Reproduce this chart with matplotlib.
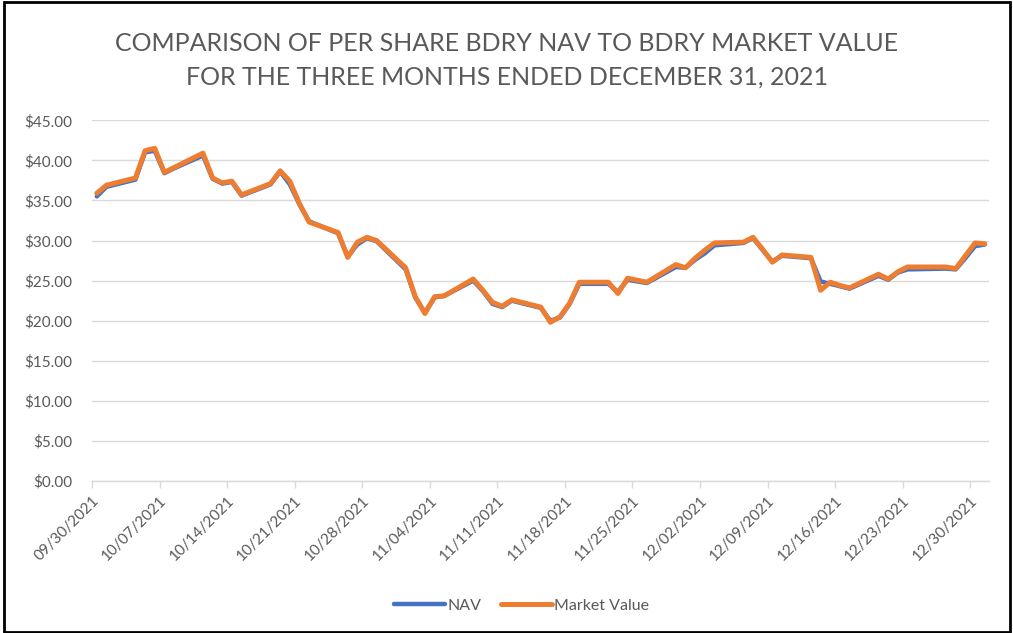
import matplotlib.pyplot as plt
import matplotlib.dates as mdates
from matplotlib.patches import Rectangle
import pandas as pd

plt.rcParams['font.family'] = ['Lato', 'DejaVu Sans']

# Trading days in Q4 2021
fechas = ['2021-09-30', '2021-10-01', '2021-10-04', '2021-10-05', '2021-10-06', '2021-10-07',
          '2021-10-08', '2021-10-11', '2021-10-12', '2021-10-13', '2021-10-14', '2021-10-15',
          '2021-10-18', '2021-10-19', '2021-10-20', '2021-10-21', '2021-10-22', '2021-10-25',
          '2021-10-26', '2021-10-27', '2021-10-28', '2021-10-29', '2021-11-01', '2021-11-02',
          '2021-11-03', '2021-11-04', '2021-11-05', '2021-11-08', '2021-11-09', '2021-11-10',
          '2021-11-11', '2021-11-12', '2021-11-15', '2021-11-16', '2021-11-17', '2021-11-18',
          '2021-11-19', '2021-11-22', '2021-11-23', '2021-11-24', '2021-11-26', '2021-11-29',
          '2021-11-30', '2021-12-01', '2021-12-02', '2021-12-03', '2021-12-06', '2021-12-07',
          '2021-12-08', '2021-12-09', '2021-12-10', '2021-12-13', '2021-12-14', '2021-12-15',
          '2021-12-16', '2021-12-17', '2021-12-20', '2021-12-21', '2021-12-22', '2021-12-23',
          '2021-12-27', '2021-12-28', '2021-12-29', '2021-12-30', '2021-12-31']

market = [35.9, 36.9, 37.8, 41.2, 41.5, 38.5,
          39.1, 40.9, 37.8, 37.2, 37.4, 35.7,
          37.1, 38.7, 37.4, 34.6, 32.3, 31.0,
          27.9, 29.8, 30.4, 30.0, 26.6, 23.0,
          20.9, 23.0, 23.1, 25.2, 23.8, 22.3,
          21.8, 22.6, 21.7, 19.8, 20.5, 22.2,
          24.8, 24.8, 23.4, 25.3, 24.8, 27.0,
          26.6, 27.8, 28.8, 29.7, 29.8, 30.4,
          28.9, 27.3, 28.2, 27.9, 23.8, 24.8,
          24.4, 24.1, 25.8, 25.2, 26.1, 26.7,
          26.7, 26.5, 28.1, 29.7, 29.6]

nav = [35.5, 36.7, 37.6, 41.0, 41.2, 38.4,
       39.0, 40.6, 37.7, 37.1, 37.3, 35.6,
       37.0, 38.6, 37.0, 34.5, 32.4, 30.9,
       28.0, 29.5, 30.3, 29.9, 26.4, 22.9,
       21.0, 22.9, 23.1, 25.0, 23.7, 22.1,
       21.7, 22.5, 21.6, 20.0, 20.4, 22.1,
       24.6, 24.6, 23.6, 25.1, 24.7, 26.7,
       26.6, 27.6, 28.4, 29.4, 29.7, 30.3,
       28.8, 27.4, 28.1, 27.8, 24.9, 24.6,
       24.3, 24.0, 25.6, 25.1, 26.0, 26.4,
       26.5, 26.4, 27.8, 29.3, 29.5]

x = pd.to_datetime(fechas) + pd.Timedelta(hours=12)
ticks = pd.date_range('2021-09-30', '2021-12-30', freq='7D')

fig = plt.figure(figsize=(10.13, 6.33), dpi=100)
ax = fig.add_axes([0.0908, 0.240, 0.886, 0.570])

ax.plot(x, nav, color='#4472C4', linewidth=3.2, label='NAV', solid_capstyle='round')
ax.plot(x, market, color='#ED7D31', linewidth=3.6, label='Market Value', solid_capstyle='round')

ax.set_xlim(pd.Timestamp('2021-09-30'), pd.Timestamp('2022-01-01'))
ax.set_ylim(0, 45)
ax.set_yticks(range(0, 50, 5))
ax.set_yticklabels([f'${v:.2f}' for v in range(0, 50, 5)])
ax.set_xticks(ticks)
ax.xaxis.set_major_formatter(mdates.DateFormatter('%m/%d/%Y'))

gris = '#595959'
for lbl in ax.get_xticklabels():
    lbl.set_rotation(45)
    lbl.set_ha('right')
    lbl.set_va('top')
    lbl.set_rotation_mode('anchor')
ax.tick_params(axis='x', colors='#D9D9D9', labelcolor=gris, labelsize=11, length=5, width=1, pad=4)
ax.tick_params(axis='y', length=0, labelcolor=gris, labelsize=11, pad=14)

ax.grid(axis='y', color='#D9D9D9', linewidth=1)
ax.set_axisbelow(True)
for s in ['top', 'right', 'left']:
    ax.spines[s].set_visible(False)
ax.spines['bottom'].set_color('#D9D9D9')
ax.spines['bottom'].set_linewidth(1)

fig.text(0.5, 0.905, 'COMPARISON OF PER SHARE BDRY NAV TO BDRY MARKET VALUE\nFOR THE THREE MONTHS ENDED DECEMBER 31, 2021',
         ha='center', va='center', fontsize=18, color=gris, linespacing=1.55)

fig.legend(loc='center', bbox_to_anchor=(0.515, 0.043), ncol=2, frameon=False,
           fontsize=11.5, handlelength=3.2, handletextpad=0.15, columnspacing=1.2,
           labelcolor=gris)

fig.patches.append(Rectangle((0.004, 0.002), 0.993, 0.995, transform=fig.transFigure,
                             fill=False, edgecolor='black', linewidth=2))

fig.savefig('out.png', dpi=100)
